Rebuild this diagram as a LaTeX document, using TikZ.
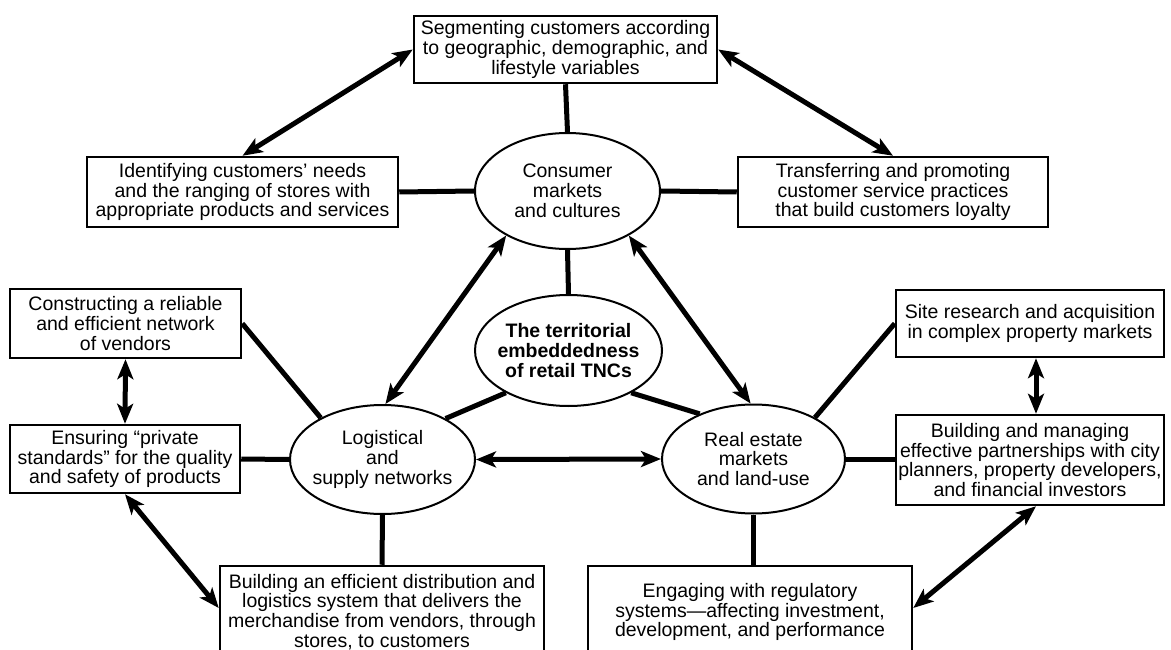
\documentclass[tikz,border=0pt]{standalone}
\usepackage{fontspec}
\setmainfont{Liberation Sans}
\usetikzlibrary{shapes.geometric,arrows.meta}
\begin{document}
\begin{tikzpicture}[x=1pt,y=-1pt,
  every node/.style={font=\fontsize{19.5}{19.8}\selectfont, align=center},
  box/.style={draw, line width=2.5pt, rectangle, inner sep=0pt},
  oval/.style={draw, line width=2pt, ellipse, inner xsep=-25pt, inner ysep=-12pt},
  link/.style={line width=5pt},
  dbl/.style={line width=5pt, {Stealth[length=20pt,width=16pt,inset=5pt]}-{Stealth[length=20pt,width=16pt,inset=5pt]}},
]
\path[use as bounding box] (0,0) rectangle (1171,650);
\clip (0,0) rectangle (1171,650);

\node[box, minimum width=303pt, minimum height=67pt] (seg) at (565.5,49.5) {Segmenting customers according\\to geographic, demographic, and\\lifestyle variables};
\node[box, minimum width=311pt, minimum height=70pt] (ident) at (242.5,192) {Identifying customers’ needs\\and the ranging of stores with\\appropriate products and services};
\node[box, minimum width=310pt, minimum height=70pt] (trans) at (893,192) {Transferring and promoting\\customer service practices\\that build customers loyalty};
\node[oval, minimum width=185pt, minimum height=116pt] (cons) at (567.5,191) {Consumer\\markets\\and cultures};
\node[oval, minimum width=187pt, minimum height=111pt, font=\fontsize{19.5}{19.8}\selectfont\bfseries] (core) at (568.5,350.5) {The territorial\\embeddedness\\of retail TNCs};
\node[oval, minimum width=185pt, minimum height=109pt] (logi) at (382.5,459.5) {Logistical\\and\\supply networks};
\node[oval, minimum width=183pt, minimum height=109pt] (real) at (753.5,459) {Real estate\\markets\\and land-use};
\node[box, minimum width=231pt, minimum height=69pt] (constr) at (125.5,323.5) {Constructing a reliable\\and efficient network\\of vendors};
\node[box, minimum width=230pt, minimum height=68pt] (ensur) at (125,459) {Ensuring “private\\standards” for the quality\\and safety of products};
\node[box, minimum width=268pt, minimum height=67pt] (site) at (1030,323.5) {Site research and acquisition\\in complex property markets};
\node[box, minimum width=268pt, minimum height=90pt] (build) at (1030,460) {Building and managing\\effective partnerships with city\\planners, property developers,\\and financial investors};
\node[box, minimum width=324pt, minimum height=92pt] (distb) at (382,612) {Building an efficient distribution and\\logistics system that delivers the\\merchandise from vendors, through\\stores, to customers};
\node[box, minimum width=324pt, minimum height=92pt] (engage) at (750,612) {Engaging with regulatory\\systems—affecting investment,\\development, and performance};

\draw[link] (seg.south) -- (cons.north);
\draw[link] (ident.east) -- (cons.west);
\draw[link] (cons.east) -- (trans.west);
\draw[link] (cons.south) -- (core.north);
\draw[link] (core.214) -- (logi.33);
\draw[link] (core.326) -- (real.140);
\draw[link] (constr.east) -- (logi.146);
\draw[link] (ensur.east) -- (logi.west);
\draw[link] (logi.south) -- (distb.north);
\draw[link] (real.south) -- (real.south |- engage.north);
\draw[link] (real.east) -- (real.east -| build.west);
\draw[link] (site.west) -- (real.34);

\draw[dbl] (seg.west) -- (ident.north);
\draw[dbl] (seg.east) -- (trans.north);
\draw[dbl] (cons.216) -- (logi.87);
\draw[dbl] (cons.324) -- (real.93);
\draw[dbl] (logi.east) -- (real.west);
\draw[dbl] (constr.south) -- (ensur.north);
\draw[dbl] (ensur.south) -- ([yshift=4pt]distb.west);
\draw[dbl] ([xshift=6pt]site.south) -- ([xshift=6pt]build.north);
\draw[dbl] ([xshift=6pt]build.south) -- ([yshift=4pt]engage.east);
\end{tikzpicture}
\end{document}
